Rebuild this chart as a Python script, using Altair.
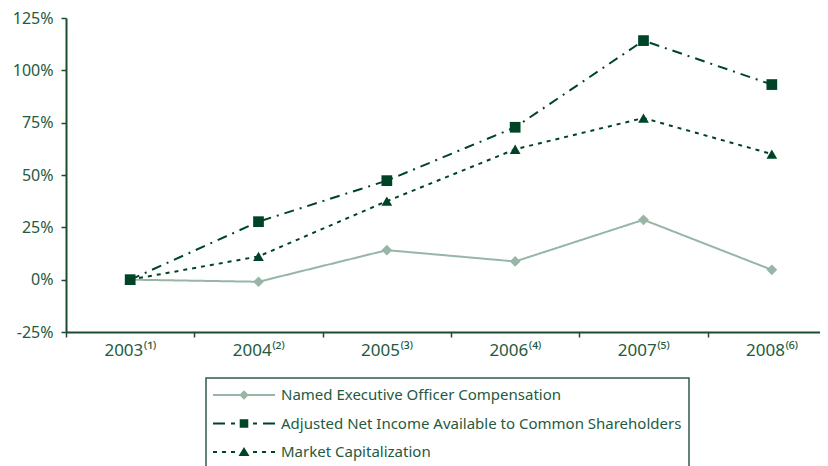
import altair as alt
import pandas as pd

# ---- data ----
years = [2003, 2004, 2005, 2006, 2007, 2008]
year_labels = ["2003⁽¹⁾", "2004⁽²⁾", "2005⁽³⁾", "2006⁽⁴⁾", "2007⁽⁵⁾", "2008⁽⁶⁾"]
series_names = [
    "Named Executive Officer Compensation",
    "Adjusted Net Income Available to Common Shareholders",
    "Market Capitalization",
]
neo_comp = [0.0, -1.0, 14.1, 8.7, 28.6, 4.7]
adj_net_income = [0.0, 27.7, 47.3, 72.8, 114.2, 93.2]
market_cap = [0.0, 11.1, 37.5, 62.3, 77.2, 60.0]
y_ticks = [-25, 0, 25, 50, 75, 100, 125]

rows = []
for name, vals in zip(series_names, [neo_comp, adj_net_income, market_cap]):
    for lab, v in zip(year_labels, vals):
        rows.append({"year": lab, "value": v, "series": name})
df = pd.DataFrame(rows)

# ---- styles ----
LIGHT = "#98b5a6"
DARK = "#004428"
AXIS = "#1d4a33"
TEXT = "#245a40"
FONT = "Noto Sans"
colors = [LIGHT, DARK, DARK]
dashes = [[1, 0], [10, 6, 2, 6], [4, 5]]
shapes = ["diamond", "square", "triangle-up"]

# legend symbols: line + marker drawn as one custom path (unit coords)
R = 31.0


def rect(x0, x1, h=1.1):
    return f"M{x0/R:.4f},{-h/R:.4f}H{x1/R:.4f}V{h/R:.4f}H{x0/R:.4f}Z"


def poly(pts):
    return "M" + "L".join(f"{x/R:.4f},{y/R:.4f}" for x, y in pts) + "Z"


leg1 = rect(-31, 31) + poly([(0, -4.8), (4.8, 0), (0, 4.8), (-4.8, 0)])
leg2 = (rect(-31, -19) + rect(-13, -9) + poly([(-4.3, -4.3), (4.3, -4.3), (4.3, 4.3), (-4.3, 4.3)])
        + rect(9, 13) + rect(19, 31))
leg3 = (rect(-31, -27) + rect(-22, -18) + rect(-13, -9) + poly([(0, -5), (5.5, 4), (-5.5, 4)])
        + rect(9, 13) + rect(18, 22) + rect(27, 31))
legend_paths = [leg1, leg2, leg3]

PLOT_W = 770  # six equal slots; the right end is cut by the page edge

x_enc = alt.X(
    "year:O",
    sort=year_labels,
    scale=alt.Scale(type="band", domain=year_labels, paddingInner=0, paddingOuter=0),
    axis=alt.Axis(
        tickBand="extent",
        labelAngle=0,
        grid=False,
        title=None,
        tickSize=5,
        labelPadding=5,
        labelFontSize=17,
    ),
)
y_enc = alt.Y(
    "value:Q",
    scale=alt.Scale(domain=[-25, 125], nice=False),
    axis=alt.Axis(
        values=y_ticks,
        labelExpr="datum.value + '%'",
        grid=False,
        title=None,
        tickSize=5,
        labelPadding=8,
        labelFontSize=16,
    ),
)

base = alt.Chart(df)

lines = base.mark_line(strokeWidth=2).encode(
    x=x_enc,
    y=y_enc,
    color=alt.Color("series:N", scale=alt.Scale(domain=series_names, range=colors), legend=None),
    strokeDash=alt.StrokeDash("series:N", scale=alt.Scale(domain=series_names, range=dashes), legend=None),
)

points = base.mark_point(filled=True, opacity=1, strokeWidth=0, size=115).encode(
    x=x_enc,
    y=y_enc,
    color=alt.Color("series:N", scale=alt.Scale(domain=series_names, range=colors), legend=None),
    shape=alt.Shape("series:N", scale=alt.Scale(domain=series_names, range=shapes), legend=None),
)

leg = alt.Legend(
    title=None,
    orient="none",
    legendX=140,
    legendY=360,
    direction="vertical",
    symbolSize=R * R * 4,
    symbolStrokeWidth=0,
    symbolOpacity=1,
    clipHeight=20,
    rowPadding=8.5,
    padding=7,
    labelOffset=6,
    labelFontSize=15,
    labelFont=FONT,
    labelColor=TEXT,
    labelLimit=700,
    strokeColor="#2f5c45",
    fillColor="white",
)

legend_layer = base.mark_point(filled=True, opacity=0, size=10).encode(
    x=x_enc,
    y=y_enc,
    color=alt.Color("series:N", scale=alt.Scale(domain=series_names, range=colors), legend=leg),
    shape=alt.Shape("series:N", scale=alt.Scale(domain=series_names, range=legend_paths), legend=leg),
)

chart = (
    alt.layer(lines, points, legend_layer)
    .resolve_scale(color="independent", shape="independent", strokeDash="independent")
    .properties(
        width=PLOT_W,
        height=314,
        padding={"left": 58, "top": 10, "right": -16, "bottom": 134},
        autosize=alt.AutoSizeParams(type="none"),
    )
    .configure_view(stroke=None)
    .configure_axis(
        domainColor=AXIS,
        domainWidth=2,
        tickColor=AXIS,
        tickWidth=1.5,
        labelColor=TEXT,
        labelFont=FONT,
    )
    .configure_legend(strokeWidth=1.5)
)

chart.save("out.html", embed_options={"renderer": "svg", "actions": False})
